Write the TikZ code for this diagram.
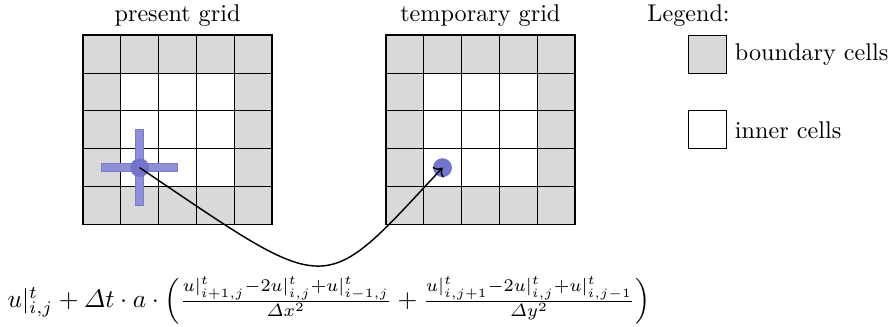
\documentclass[tikz,border=0pt]{standalone}
\usepackage{amsmath,amssymb}
\usepackage{graphicx}
\usepackage{xcolor}
\usepackage{tikz}
\usetikzlibrary{arrows.meta,positioning,calc}
\definecolor{gridgray}{HTML}{D9D9D9}
\definecolor{crossblue}{HTML}{8F8FD8}
\definecolor{crossedge}{HTML}{7B7BCD}
\definecolor{dotblue}{HTML}{7474CB}
\begin{document}
\begin{tikzpicture}[x=5.5mm,y=5.5mm,
  cell/.style={draw,minimum size=5.5mm,inner sep=0pt,outer sep=0pt},
  bnd/.style={cell,fill=gridgray}, inr/.style={cell,fill=white},
  bar/.style={fill=crossblue,draw=crossedge,inner sep=0pt},
  dot/.style={circle,fill=dotblue,minimum size=2.75mm,inner sep=0pt},
  ar/.style={->,semithick}]
  \useasboundingbox (-2.19,-2.69) rectangle (21.48,5.93);
  \foreach \ox/\g in {0/p,8/t}{
    \foreach \i in {0,...,4}{
      \foreach \j in {0,...,4}{
        \pgfmathtruncatemacro\edge{(\i==0)||(\i==4)||(\j==0)||(\j==4)}
        \ifnum\edge=1 \def\fc{gridgray}\else\def\fc{white}\fi
        \node[cell,fill=\fc] (\g\i\j) at (\ox+\i+0.5,\j+0.5) {};
      }
    }
    \draw[thick] (\g00.south west) rectangle (\g44.north east);
  }
  \node[above=0pt of p24] (ptitle) {present grid};
  \node[above=0pt of t24] (ttitle) {temporary grid};
  \node[bnd] (lbnd) at (16.5,4.5) {};
  \node[inr] (linr) at (16.5,2.5) {};
  \node[above=0pt of lbnd.north west] (legend) {Legend:};
  \node[right=0pt of lbnd] (lbtxt) {boundary cells};
  \node[right=0pt of linr] (litxt) {inner cells};
  \node[bar,minimum width=11mm,minimum height=1.1mm] (hbar) at (p11) {};
  \node[bar,minimum width=1.1mm,minimum height=11mm] (vbar) at (p11) {};
  \node[dot] (pdot) at (p11) {};
  \node[dot] (tdot) at (t11) {};
  \draw[ar] (pdot.center) to[out=-34,in=-133,out looseness=1.98,in looseness=1.52] (tdot.center);
  \node (eq) at (6.5,-2) {\scalebox{1.05}{$u|^t_{i,j} + \varDelta t \cdot a \cdot \left( \frac{u|^t_{i+1,j} - 2u|^t_{i,j} + u|^t_{i-1,j}}{\varDelta x^2} + \frac{u|^t_{i,j+1} - 2u|^t_{i,j} + u|^t_{i,j-1}}{\varDelta y^2} \right)$}};
\end{tikzpicture}
\end{document}
